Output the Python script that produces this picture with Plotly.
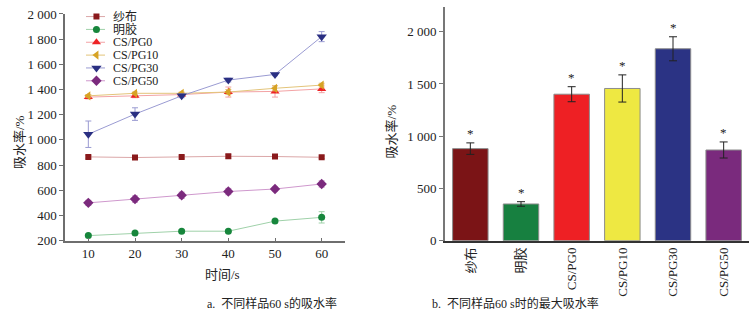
import plotly.graph_objects as go

# ---------------- data ----------------
time_s = [10, 20, 30, 40, 50, 60]
series_names = ["纱布", "明胶", "CS/PG0", "CS/PG10", "CS/PG30", "CS/PG50"]

gauze = [865, 860, 865, 870, 868, 862]
gauze_err = [10, 10, 10, 15, 10, 10]
gelatin = [240, 260, 275, 275, 355, 385]
gelatin_err = [10, 12, 10, 10, 12, 45]
cspg0 = [1340, 1350, 1360, 1380, 1385, 1405]
cspg0_err = [15, 15, 15, 40, 45, 30]
cspg10 = [1350, 1370, 1370, 1380, 1410, 1435]
cspg10_err = [10, 10, 10, 20, 20, 15]
cspg30 = [1045, 1205, 1350, 1475, 1520, 1820]
cspg30_err = [105, 50, 15, 15, 10, 40]
cspg50 = [500, 530, 560, 590, 610, 650]
cspg50_err = [20, 25, 25, 25, 15, 25]

left_ticks = [200, 400, 600, 800, 1000, 1200, 1400, 1600, 1800, 2000]
left_ticktext = ["200", "400", "600", "800", "1 000", "1 200", "1 400", "1 600", "1 800", "2 000"]

bar_categories = ["纱布", "明胶", "CS/PG0", "CS/PG10", "CS/PG30", "CS/PG50"]
bar_values = [881, 351, 1402, 1457, 1837, 868]
bar_err = [55, 22, 72, 130, 115, 77]
right_ticks = [0, 500, 1000, 1500, 2000]
right_ticktext = ["0", "500", "1 000", "1 500", "2 000"]

# ---------------- styles ----------------
FONT = "'Liberation Serif', 'Noto Sans CJK SC', serif"
marker_colors = ["#8a1a1c", "#17863c", "#ee2326", "#d7a325", "#2a2f82", "#7b2a7d"]
line_colors = ["#dba7a8", "#9fd1a9", "#f3a3a5", "#e3c47a", "#9a9bd2", "#cf98cd"]
symbols = ["square", "circle", "triangle-up", "triangle-left", "triangle-down", "diamond"]
sizes = [6, 7, 8, 8, 9, 8]
bar_colors = ["#7b1416", "#178040", "#ee2024", "#eee842", "#2b3384", "#7a2a7d"]

series_vals = [gauze, gelatin, cspg0, cspg10, cspg30, cspg50]
series_errs = [gauze_err, gelatin_err, cspg0_err, cspg10_err, cspg30_err, cspg50_err]

fig = go.Figure()

# left panel lines
for i, name in enumerate(series_names):
    fig.add_trace(go.Scatter(
        x=time_s, y=series_vals[i], name=name, mode="lines+markers",
        line=dict(color=line_colors[i], width=1),
        marker=dict(symbol=symbols[i], size=sizes[i], color=marker_colors[i]),
        error_y=dict(type="data", array=series_errs[i], color=line_colors[i], thickness=1, width=3),
        xaxis="x", yaxis="y", showlegend=False,
    ))

# custom compact legend
for i, name in enumerate(series_names):
    fig.add_trace(go.Scatter(
        x=[0, 1], y=[i, i], mode="lines", line=dict(color=line_colors[i], width=1),
        xaxis="x3", yaxis="y3", showlegend=False, hoverinfo="skip"))
    fig.add_trace(go.Scatter(
        x=[0.55], y=[i], mode="markers",
        marker=dict(symbol=symbols[i], size=sizes[i], color=marker_colors[i]),
        xaxis="x3", yaxis="y3", showlegend=False, hoverinfo="skip"))

# right panel bars
fig.add_trace(go.Bar(
    x=bar_categories, y=bar_values,
    marker=dict(color=bar_colors, line=dict(color="#8c8c8c", width=1)),
    error_y=dict(type="data", array=bar_err, color="#222", thickness=1, width=4),
    xaxis="x2", yaxis="y2", showlegend=False, width=0.7,
))

annotations = []
for i, name in enumerate(series_names):
    annotations.append(dict(
        x=111 / 752, y=i, xref="paper", yref="y3", text=name, showarrow=False,
        xanchor="left", yanchor="middle", font=dict(family=FONT, size=12, color="#222")))

for cat, v, e in zip(bar_categories, bar_values, bar_err):
    annotations.append(dict(
        x=cat, y=v + e, xref="x2", yref="y2", text="*", showarrow=False,
        yanchor="bottom", yshift=0, font=dict(family=FONT, size=13, color="#222")))

# axis titles and captions
annotations += [
    dict(x=10 / 752, y=1 - 142 / 332, xref="paper", yref="paper", text="吸水率/%", textangle=-90,
         showarrow=False, font=dict(family=FONT, size=13, color="#222")),
    dict(x=391 / 752, y=1 - 100 / 332, xref="paper", yref="paper", text="吸水率/%", textangle=-90,
         showarrow=False, font=dict(family=FONT, size=13, color="#222")),
    dict(x=203 / 752, y=1 - 290 / 332, xref="paper", yref="paper", text="时间/s",
         showarrow=False, font=dict(family=FONT, size=13, color="#222")),
    dict(x=205 / 752, y=1 - 320 / 332, xref="paper", yref="paper", text="a.  不同样品60 s的吸水率",
         showarrow=False, font=dict(family=FONT, size=12, color="#222")),
    dict(x=601 / 752, y=1 - 320 / 332, xref="paper", yref="paper", text="b.  不同样品60 s时的最大吸水率",
         showarrow=False, font=dict(family=FONT, size=12, color="#222")),
]

tickfont = dict(family=FONT, size=13, color="#222")

fig.update_layout(
    width=752, height=332, margin=dict(l=0, r=0, t=0, b=0),
    paper_bgcolor="white", plot_bgcolor="white",
    font=dict(family=FONT, size=13, color="#222"),
    annotations=annotations,
    xaxis=dict(domain=[65 / 752, 345 / 752], range=[5, 65], tickvals=time_s,
               showline=True, linecolor="#6e6e6e", linewidth=1.5, ticks="inside", ticklen=3,
               tickcolor="#6e6e6e", showgrid=False, zeroline=False, tickfont=tickfont, anchor="y"),
    yaxis=dict(domain=[1 - 244.7 / 332, 1 - 7.3 / 332], range=[200, 2000], tickvals=left_ticks,
               ticktext=left_ticktext, showline=True, linecolor="#6e6e6e", linewidth=1.5,
               ticks="outside", ticklen=4, tickcolor="#6e6e6e", showgrid=False, zeroline=False,
               tickfont=tickfont, anchor="x", ticklabeloverflow="allow"),
    xaxis2=dict(domain=[445 / 752, 749 / 752], range=[-0.5, 5.5], tickangle=-90,
                showline=True, linecolor="#333", linewidth=1.5, ticks="", showgrid=False,
                zeroline=False, tickfont=tickfont, anchor="y2"),
    yaxis2=dict(domain=[1 - 244.7 / 332, 1], range=[0, 2237], tickvals=right_ticks,
                ticktext=right_ticktext, showline=True, linecolor="#777", linewidth=2,
                ticks="outside", ticklen=4, tickcolor="#777", showgrid=False, zeroline=False,
                tickfont=tickfont, anchor="x2", ticklabeloverflow="allow"),
    xaxis3=dict(domain=[86 / 752, 105 / 752], range=[0, 1], visible=False, fixedrange=True, anchor="y3"),
    yaxis3=dict(domain=[1 - 84 / 332, 1 - 3.3 / 332], range=[5.5, -0.5], visible=False,
                fixedrange=True, anchor="x3"),
    bargap=0.3,
)

fig.write_html("out.html")
